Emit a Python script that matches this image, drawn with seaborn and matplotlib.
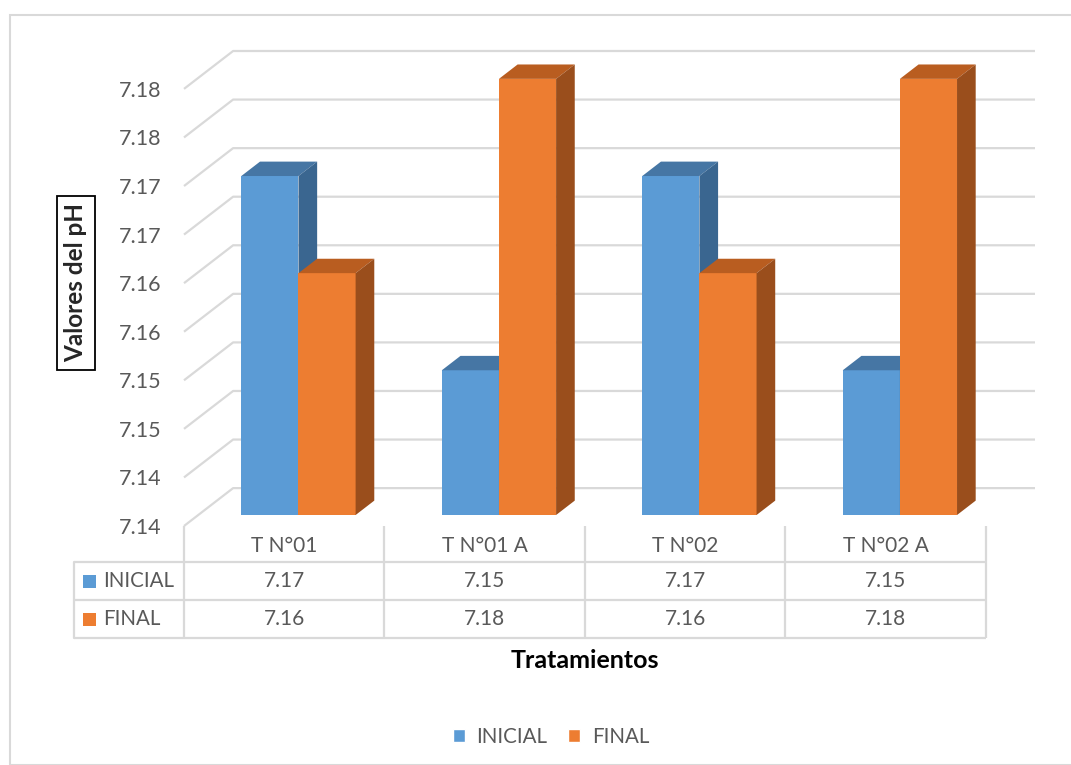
import matplotlib
matplotlib.use("Agg")
import matplotlib.pyplot as plt
import matplotlib.transforms as mtransforms
from matplotlib.patches import Polygon, Rectangle, Patch
from matplotlib.lines import Line2D
import seaborn as sns
import pandas as pd

# data
tratamientos = ["T N°01", "T N°01 A", "T N°02", "T N°02 A"]
series = ["INICIAL", "FINAL"]
inicial = [7.1749, 7.1549, 7.1749, 7.1549]
final = [7.1649, 7.1849, 7.1649, 7.1849]
y_ticks = [7.140, 7.145, 7.150, 7.155, 7.160, 7.165, 7.170, 7.175, 7.180, 7.185]
y_tick_labels = ["7.14", "7.14", "7.15", "7.15", "7.16",
                 "7.16", "7.17", "7.17", "7.18", "7.18"]

front_colors = {"INICIAL": "#5B9BD5", "FINAL": "#ED7D31"}
top_colors = {"INICIAL": "#4676A4", "FINAL": "#B95D20"}
side_colors = {"INICIAL": "#3A6690", "FINAL": "#9A4E1C"}
grid_color = "#D9D9D9"
text_color = "#595959"

df = pd.DataFrame({
    "tratamiento": tratamientos * 2,
    "serie": [series[0]] * len(inicial) + [series[1]] * len(final),
    "ph": inicial + final,
})

sns.set_style("white")
plt.rcParams["font.family"] = ["Lato", "DejaVu Sans"]

W, H = 1071, 765
fig = plt.figure(figsize=(W / 100, H / 100), dpi=100)


def fx(p):
    return p / W


def fy(p):
    return 1 - p / H


# depth of the fake 3D box, in data units
wall_dx, wall_dy = 0.245, 0.0039
bar_front, bar_depth = 0.29, 0.38

ax = fig.add_axes([fx(184), fy(526), fx(1035 - 184), (526 - 51) / H])
sns.barplot(data=df, x="tratamiento", y="ph", hue="serie", order=tratamientos,
            hue_order=series, palette=front_colors, width=0.57, gap=0,
            saturation=1, errorbar=None, legend=False, linewidth=0, ax=ax)

ax.set_xlim(-0.5, len(tratamientos) - 0.5 + wall_dx)
ax.set_ylim(y_ticks[0], y_ticks[-1] + wall_dy)
for s in ax.spines.values():
    s.set_visible(False)

# back wall gridlines with the diagonal on the left side wall
x0, x1 = -0.5, len(tratamientos) - 0.5
for v in y_ticks:
    ax.plot([x0, x0 + wall_dx, x1 + wall_dx], [v, v + wall_dy, v + wall_dy],
            color=grid_color, lw=1.6, zorder=0.5, clip_on=False,
            solid_capstyle="butt")

# push bars back into the box and add top / side faces
base = y_ticks[0]
ox, oy = bar_front * wall_dx, bar_front * wall_dy
dx, dy = bar_depth * wall_dx, bar_depth * wall_dy
for bar in list(ax.patches):
    x, w, val = bar.get_x(), bar.get_width(), bar.get_height()
    cat = int(round(x + w / 2))
    serie = series[0] if x + w / 2 < cat else series[1]
    z = 2 + cat * 2 + series.index(serie)
    x = x + ox
    bottom, top = base + oy, val + oy
    bar.set_x(x)
    bar.set_y(bottom)
    bar.set_height(top - bottom)
    bar.set_zorder(z)
    ax.add_patch(Polygon([(x, top), (x + w, top), (x + w + dx, top + dy), (x + dx, top + dy)],
                         closed=True, fc=top_colors[serie], ec="none", zorder=z + 0.01))
    ax.add_patch(Polygon([(x + w, bottom), (x + w + dx, bottom + dy),
                          (x + w + dx, top + dy), (x + w, top)],
                         closed=True, fc=side_colors[serie], ec="none", zorder=z + 0.01))

ax.set_yticks(y_ticks, y_tick_labels)
ax.set_xticks(range(len(tratamientos)), tratamientos)
ax.tick_params(axis="y", length=0, pad=16, labelsize=15.5, labelcolor=text_color)
ax.tick_params(axis="x", length=0, pad=7, labelsize=15, labelcolor=text_color)
ax.set_xlabel("")
ax.set_ylabel("")

# data table under the plot
blend = mtransforms.blended_transform_factory(ax.transData, fig.transFigure)
for xv in [c - 0.5 for c in range(len(tratamientos) + 1)]:
    ax.plot([xv, xv], [fy(526), fy(638)], color=grid_color, lw=1.6,
            transform=blend, clip_on=False, solid_capstyle="butt")
x_right = fig.transFigure.inverted().transform(ax.transData.transform((x1, base)))[0]
for yp in [562, 600, 638]:
    fig.add_artist(Line2D([fx(74), x_right], [fy(yp), fy(yp)], color=grid_color,
                          lw=1.6, transform=fig.transFigure, solid_capstyle="butt"))
fig.add_artist(Line2D([fx(74), fx(74)], [fy(562), fy(638)], color=grid_color,
                      lw=1.6, transform=fig.transFigure))

row_y = {"INICIAL": 581, "FINAL": 619}
for serie, vals in zip(series, [inicial, final]):
    yc = row_y[serie]
    fig.add_artist(Rectangle((fx(83), fy(yc + 6.5)), fx(13), 13 / H,
                             transform=fig.transFigure, fc=front_colors[serie], ec="none"))
    fig.text(fx(103), fy(yc), serie, ha="left", va="center", fontsize=14.8,
             color=text_color)
    for i, v in enumerate(vals):
        ax.text(i, fy(yc), f"{v:.2f}", ha="center", va="center", fontsize=15,
                color=text_color, transform=blend)

# axis titles
fig.text(fx(76), fy(283), "Valores del pH", rotation=90, ha="center", va="center",
         fontsize=17.5, fontweight="bold", color="#262626",
         bbox=dict(boxstyle="square,pad=0.32", fc="white", ec="black", lw=1.3))
fig.text(fx(585), fy(668), "Tratamientos", ha="center", va="baseline",
         fontsize=18, fontweight="bold", color="black")

# legend at the bottom
handles = [Patch(facecolor=front_colors[s], label=s) for s in series]
fig.legend(handles=handles, loc="center", bbox_to_anchor=(fx(551), fy(737)),
           ncol=2, frameon=False, handlelength=0.6, handleheight=0.6,
           handletextpad=0.55, columnspacing=1.0, fontsize=14.8,
           labelcolor=text_color)

# chart area border
fig.add_artist(Rectangle((fx(10), 0), 1.2, fy(15), transform=fig.transFigure,
                         fc="none", ec=grid_color, lw=1.5))

fig.savefig("out.png", dpi=100)
